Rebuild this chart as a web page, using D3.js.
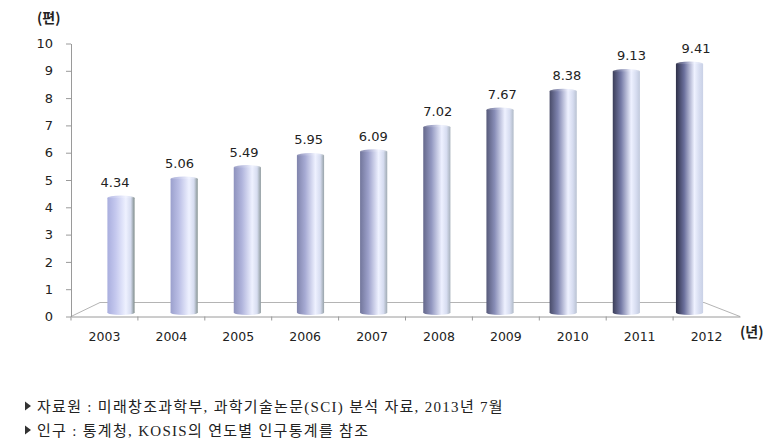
<!DOCTYPE html>
<html>
<head>
<meta charset="utf-8">
<script src="https://cdn.jsdelivr.net/npm/d3@7"></script>
<style>
  body { margin: 0; background: #fff; }
  svg { display: block; }
</style>
</head>
<body>
<div class="chart-container"></div>
<script>
// data
const years = ['2003', '2004', '2005', '2006', '2007', '2008', '2009', '2010', '2011', '2012'];
const papers = [4.34, 5.06, 5.49, 5.95, 6.09, 7.02, 7.67, 8.38, 9.13, 9.41];
const yTicks = [0, 1, 2, 3, 4, 5, 6, 7, 8, 9, 10];
const yUnit = '(편)';
const xUnit = '(년)';
const notes = [
  '자료원 : 미래창조과학부, 과학기술논문(SCI) 분석 자료, 2013년 7월',
  '인구 : 통계청, KOSIS의 연도별 인구통계를 참조'
];

const width = 772;
const height = 447;
const numFont = '"DejaVu Sans", Verdana, sans-serif';
const korFont = '"Noto Sans CJK KR", sans-serif';

const svg = d3.select('.chart-container')
  .append('svg')
  .attr('width', width)
  .attr('height', height);

svg.append('rect').attr('width', width).attr('height', height).attr('fill', '#fff');

// front plane scales
const x = d3.scaleBand().domain(years).range([71, 740]);
const y = d3.scaleLinear().domain([0, 10]).range([316.5, 43.5]);

// bars sit further back, so their scales are a bit narrower
const xBar = d3.scaleBand().domain(years).range([89.4, 721.1]).paddingInner(0.57).paddingOuter(0.285);
const yBar = d3.scaleLinear().domain([0, 10]).range([312.5, 48.5]);
const xLabel = d3.scaleBand().domain(years).range([82.7, 728.3]);

const depth = { dx: 31, dy: -14 };

// floor
const floorY = y(0);
svg.append('path')
  .attr('d', `M${x.range()[0]},${floorY} L${x.range()[0] + depth.dx - 2},${floorY + depth.dy} ` +
    `L${x.range()[1] - 36},${floorY + depth.dy} L${x.range()[1]},${floorY}`)
  .attr('fill', 'none')
  .attr('stroke', '#b4b4b4')
  .attr('stroke-width', 1);

// y axis
const yAxis = svg.append('g')
  .attr('transform', 'translate(71,0)')
  .call(d3.axisLeft(y).tickValues(yTicks).tickSize(5).tickPadding(13).tickSizeOuter(0));
yAxis.select('.domain').attr('stroke', '#9a9a9a');
yAxis.selectAll('.tick line').attr('stroke', '#9a9a9a');
yAxis.selectAll('.tick text')
  .attr('font-family', numFont)
  .attr('font-size', 13)
  .attr('fill', '#222');

// x axis
const xAxis = svg.append('g')
  .attr('transform', `translate(0,${floorY})`)
  .call(d3.axisBottom(x).tickSize(0).tickPadding(16).tickSizeOuter(0));
xAxis.select('.domain').attr('stroke', '#9a9a9a');
xAxis.selectAll('.tick text')
  .attr('font-family', numFont)
  .attr('font-size', 12.5)
  .attr('fill', '#222');
xAxis.selectAll('.edge')
  .data(years.slice(1))
  .enter()
  .append('line')
  .attr('class', 'edge')
  .attr('x1', (d) => x(d))
  .attr('x2', (d) => x(d))
  .attr('y1', 0)
  .attr('y2', 4)
  .attr('stroke', '#9a9a9a');
xAxis.append('line')
  .attr('x1', x.range()[0]).attr('x2', x.range()[0])
  .attr('y1', 0).attr('y2', 4)
  .attr('stroke', '#9a9a9a');

// cylinder gradients, shading gets darker on the left going right
const defs = svg.append('defs');
const leftCol = d3.interpolateRgb('#a9aede', '#2e3048');
const midCol = d3.interpolateRgb('#c4c8ee', '#6a6f9c');
const rightCol = d3.interpolateRgb('#7f8c8a', '#c9d1e6');

years.forEach((yr, i) => {
  const t = i / (years.length - 1);
  const g = defs.append('linearGradient')
    .attr('id', `cyl-${yr}`)
    .attr('x1', '0%').attr('x2', '100%')
    .attr('y1', '0%').attr('y2', '0%');
  g.append('stop').attr('offset', '0%').attr('stop-color', leftCol(t));
  g.append('stop').attr('offset', '30%').attr('stop-color', midCol(t));
  g.append('stop').attr('offset', '68%').attr('stop-color', '#eef1ff');
  g.append('stop').attr('offset', '86%').attr('stop-color', '#d6dcf0');
  g.append('stop').attr('offset', '100%').attr('stop-color', rightCol(t));
});

const bw = xBar.bandwidth();
const ry = 2.5;

const bars = svg.selectAll('.bar')
  .data(years.map((yr, i) => ({ key: yr, value: papers[i] })))
  .enter()
  .append('g')
  .attr('class', 'bar');

bars.append('ellipse')
  .attr('cx', (d) => xBar(d.key) + bw / 2)
  .attr('cy', yBar(0))
  .attr('rx', bw / 2)
  .attr('ry', ry)
  .attr('fill', (d) => `url(#cyl-${d.key})`);

bars.append('rect')
  .attr('x', (d) => xBar(d.key))
  .attr('y', (d) => yBar(d.value))
  .attr('width', bw)
  .attr('height', (d) => yBar(0) - yBar(d.value))
  .attr('fill', (d) => `url(#cyl-${d.key})`);

bars.append('ellipse')
  .attr('cx', (d) => xBar(d.key) + bw / 2)
  .attr('cy', (d) => yBar(d.value))
  .attr('rx', bw / 2)
  .attr('ry', ry)
  .attr('fill', (d) => `url(#cyl-${d.key})`)
  .attr('opacity', 0.85);

// value labels
bars.append('text')
  .attr('text-anchor', 'middle')
  .attr('x', (d) => xLabel(d.key) + xLabel.bandwidth() / 2)
  .attr('y', (d) => yBar(d.value) - 11)
  .attr('font-family', numFont)
  .attr('font-size', 13)
  .attr('fill', '#222')
  .text((d) => d.value.toFixed(2));

// units
svg.append('text')
  .attr('x', 37).attr('y', 23)
  .attr('font-family', korFont)
  .attr('font-weight', 'bold')
  .attr('font-size', 14)
  .attr('fill', '#222')
  .text(yUnit);

svg.append('text')
  .attr('x', 740).attr('y', 337)
  .attr('font-family', korFont)
  .attr('font-weight', 'bold')
  .attr('font-size', 14)
  .attr('fill', '#222')
  .text(xUnit);

// footnotes
const foot = svg.selectAll('.note')
  .data(notes)
  .enter()
  .append('g')
  .attr('class', 'note')
  .attr('transform', (d, i) => `translate(0,${406 + i * 24})`);

foot.append('path')
  .attr('d', 'M25,-4.5 L31,0 L25,4.5 Z')
  .attr('fill', '#333');

foot.append('text')
  .attr('x', 37)
  .attr('y', 5.5)
  .attr('font-family', '"Liberation Serif", "Noto Sans CJK KR", serif')
  .attr('font-size', 15)
  .attr('letter-spacing', 1.3)
  .attr('fill', '#222')
  .text((d) => d);
</script>
</body>
</html>
